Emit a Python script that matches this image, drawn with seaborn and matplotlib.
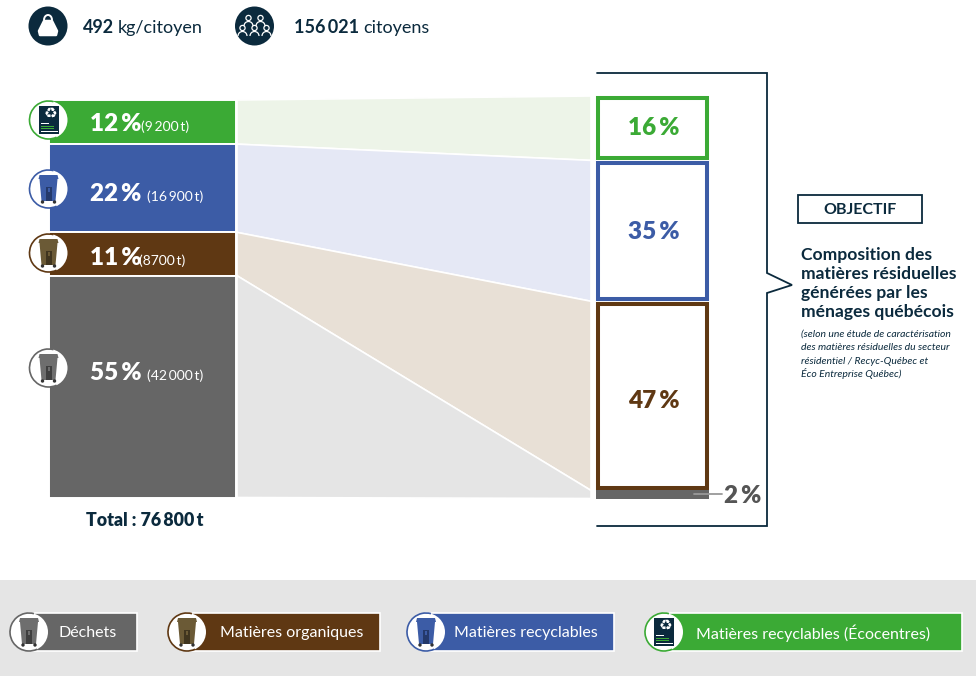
import matplotlib
matplotlib.use('Agg')
import numpy as np
import seaborn as sns
import matplotlib.pyplot as plt
from matplotlib.patches import Circle, Polygon, Rectangle, Arc

# data
categories = ['Matières recyclables (Écocentres)', 'Matières recyclables', 'Matières organiques', 'Déchets']
colors = ['#3BAA35', '#3C5CA6', '#5F3813', '#666666']
light_colors = ['#EDF4E8', '#E5E8F5', '#E8E0D6', '#E5E5E5']
left_labels = ['12\u2009%', '22\u2009%', '11\u2009%', '55\u2009%']
left_tonnes = ['(9\u2009200\u2009t)', '(16\u2009900\u2009t)', '(8700\u2009t)', '(42\u2009000\u2009t)']
# les hauteurs dessinées ne suivent pas tout à fait les étiquettes
left_shares = [11.1, 22.2, 10.9, 55.8]
right_values = [16, 35, 47, 2]
right_labels = ['16\u2009%', '35\u2009%', '47\u2009%', '2\u2009%']
total_label = 'Total : 76\u2009800\u2009t'
header_bold = ['492', '156\u2009021']
header_text = ['kg/citoyen', 'citoyens']
legend_order = ['Déchets', 'Matières organiques', 'Matières recyclables', 'Matières recyclables (Écocentres)']
objectif_title = ['Composition des', 'matières résiduelles', 'générées par les', 'ménages québécois']
objectif_note = ['(selon une étude de caractérisation', 'des matières résiduelles du secteur',
                 'résidentiel / Recyc-Québec et', 'Éco Entreprise Québec)']

NAVY = '#0B2A3D'
W, H = 976, 676

sns.set_theme(style='white')
plt.rcParams['font.family'] = ['Lato', 'DejaVu Sans']

fig = plt.figure(figsize=(W / 100, H / 100), dpi=100)
fig.patch.set_facecolor('white')


def px_axes(x0, y0, x1, y1, **kw):
    return fig.add_axes([x0 / W, 1 - y1 / H, (x1 - x0) / W, (y1 - y0) / H], **kw)


def stacked(ax, values, face, edge, lw):
    bottom = 0
    for v, f, e in zip(values, face, edge):
        sns.barplot(x=['a'], y=[v], bottom=bottom, color=f, width=1, ax=ax,
                    saturation=1, edgecolor=e, linewidth=lw, clip_on=False)
        bottom += v
    ax.set_xlim(-0.5, 0.5)
    ax.set_ylim(100, 0)
    ax.axis('off')


# barre de gauche
ax_left = px_axes(49.3, 100, 236, 497.5)
stacked(ax_left, left_shares, colors, ['white'] * 4, 1.4)

# barre de droite (objectif)
ax_right = px_axes(596, 96, 709, 498.5)
stacked(ax_right, right_values, ['white', 'white', 'white', colors[3]], colors, 2.9)
# les contours restent à l'intérieur de chaque case
for i, p in enumerate(ax_right.patches):
    if i < 3:
        p.set_x(p.get_x() + 0.018)
        p.set_width(p.get_width() - 0.036)
        p.set_y(p.get_y() + 0.6)
        p.set_height(p.get_height() - 1.2)
    else:
        p.set_linewidth(0)

# calque en pixels pour tout le reste
ov = fig.add_axes([0, 0, 1, 1], facecolor='none')
ov.set_xlim(0, W)
ov.set_ylim(H, 0)
ov.axis('off')


def to_px(ax, x, y):
    return ov.transData.inverted().transform(ax.transData.transform((x, y)))[1]


# bandes entre les deux barres
left_edges = np.concatenate([[0], np.cumsum(left_shares)])
right_edges = np.concatenate([[0], np.cumsum(right_values)])
for i in range(4):
    pts = [(237, to_px(ax_left, 0, left_edges[i])),
           (591, to_px(ax_right, 0, right_edges[i])),
           (591, to_px(ax_right, 0, right_edges[i + 1])),
           (237, to_px(ax_left, 0, left_edges[i + 1]))]
    ov.add_patch(Polygon(pts, closed=True, fc=light_colors[i], ec='white', lw=1.2))

# fond du bas
ov.add_patch(Rectangle((0, 580), W, 96, fc='#E5E5E5', ec='none'))


def runs(x, y, parts):
    # parts: (texte, taille, graisse, couleur)
    r = fig.canvas.get_renderer()
    for txt, size, weight, col in parts:
        t = ov.text(x, y, txt, fontsize=size, fontweight=weight, color=col, va='baseline', ha='left')
        x = t.get_window_extent(r).x1 + 4


def bin_icon(cx, cy, body, dark, s=1.0):
    ov.add_patch(Polygon([(cx - 9 * s, cy - 14 * s), (cx + 9 * s, cy - 14 * s), (cx + 10 * s, cy - 10 * s),
                          (cx - 10 * s, cy - 10 * s)], fc=body, ec='none', zorder=6))
    ov.add_patch(Polygon([(cx - 9 * s, cy - 10 * s), (cx + 9 * s, cy - 10 * s), (cx + 7 * s, cy + 12 * s),
                          (cx - 7 * s, cy + 12 * s)], fc=body, ec='none', zorder=6))
    ov.add_patch(Rectangle((cx - 3 * s, cy - 2 * s), 6 * s, 14 * s, fc=dark, ec='none', zorder=7))
    ov.add_patch(Rectangle((cx - 1 * s, cy - 1 * s), 2 * s, 4 * s, fc=body, ec='none', zorder=8))
    for dx in (-6, 6):
        ov.add_patch(Circle((cx + dx * s, cy + 13 * s), 1.7 * s, fc='#333333', ec='none', zorder=8))


def eco_icon(cx, cy, s=1.0):
    ov.add_patch(Rectangle((cx - 10 * s, cy - 14 * s), 20 * s, 28 * s, fc=NAVY, ec='none', zorder=6))
    ov.text(cx + 2 * s, cy - 6 * s, '\u267b', color='white', fontsize=11 * s, ha='center', va='center',
            family='DejaVu Sans', zorder=7)
    for k, (wd, c) in enumerate([(8, 'white'), (13, '#3BAA35'), (13, '#3BAA35'), (17, 'white')]):
        ov.add_patch(Rectangle((cx - 8 * s, cy + (3 + k * 2.5) * s), wd * s, 1.4 * s, fc=c, ec='none', zorder=7))


def badge(cx, cy, r, i):
    ov.add_patch(Circle((cx, cy), r, fc='white', ec='none', zorder=5))
    ov.add_patch(Arc((cx, cy), 2 * r, 2 * r, theta1=65, theta2=285, ec=colors[i], lw=1.2, zorder=5))
    if i == 0:
        eco_icon(cx, cy, r / 19)
    elif i == 1:
        bin_icon(cx, cy, '#3C5CA6', '#24396B', r / 19)
    elif i == 2:
        bin_icon(cx, cy, '#6B5A36', '#40351F', r / 19)
    else:
        bin_icon(cx, cy, '#6E6E6E', '#3F3F3F', r / 19)


# icônes et étiquettes de la barre de gauche
badge_y = [120, 189, 253, 368]
label_base = [131, 201, 265, 380]
tonnes_x = [141, 147, 139, 147]
for i in range(4):
    badge(48.5, badge_y[i], 19, i)
    ov.text(90, label_base[i], left_labels[i], fontsize=17.5, fontweight='heavy', color='white', va='baseline')
    ov.text(tonnes_x[i], label_base[i], left_tonnes[i], fontsize=10, color='white', va='baseline')

ov.text(145, 520, total_label, fontsize=12.8, fontweight='heavy', color=NAVY, ha='center', va='center')

# étiquettes de droite
right_y = [128, 232, 401]
for i in range(3):
    ov.text(654, right_y[i], right_labels[i], fontsize=17.5, fontweight='heavy', color=colors[i], ha='center', va='center')
ov.plot([694, 722], [494, 494], color='#999999', lw=1.3, zorder=4)
ov.text(724, 496, right_labels[3], fontsize=17.5, fontweight='heavy', color='#555555', ha='left', va='center')

# accolade de l'objectif
ov.plot([597, 767, 767, 792, 767, 767, 597], [73, 73, 273, 285, 293, 526, 526], color=NAVY, lw=1.3,
        solid_joinstyle='miter')
ov.add_patch(Rectangle((798, 195), 124, 28, fc='white', ec=NAVY, lw=1.3))
ov.text(860, 210, 'OBJECTIF', fontsize=11.5, fontweight='bold', color=NAVY, ha='center', va='center')
for k, line in enumerate(objectif_title):
    ov.text(801, 260 + k * 19, line, fontsize=12.6, fontweight='bold', color=NAVY, va='baseline')
for k, line in enumerate(objectif_note):
    ov.text(801, 337 + k * 13.3, line, fontsize=7.5, style='italic', color=NAVY, va='baseline')

# en-tête
ov.add_patch(Circle((48, 26), 19.5, fc=NAVY, ec='none'))
ov.add_patch(Polygon([(44, 21), (52, 21), (57, 31), (56, 35), (40, 35), (39, 31)], fc='white', ec='white', lw=1.8,
                     joinstyle='round', zorder=4))
ov.add_patch(Arc((48, 20), 8, 10, theta1=180, theta2=360, ec='white', lw=1.4, zorder=4))
ov.add_patch(Circle((254.5, 26), 19.5, fc=NAVY, ec='none'))
for dx, dy in [(-6, -8), (6, -8), (-12, 2), (0, 2), (12, 2)]:
    ov.add_patch(Circle((254.5 + dx, 26 + dy), 2.6, fc='none', ec='white', lw=0.9, zorder=4))
    ov.add_patch(Arc((254.5 + dx, 26 + dy + 8), 9, 9, theta1=180, theta2=360, ec='white', lw=0.9, zorder=4))
runs(83, 33, [(header_bold[0], 13, 'bold', NAVY), (header_text[0], 13, 'normal', NAVY)])
runs(294, 33, [(header_bold[1], 13, 'bold', NAVY), (header_text[1], 13, 'normal', NAVY)])

# légende du bas
leg_cx = [29, 187, 426, 664]
leg_right = [137, 380, 614, 962]
leg_text_x = [59, 220, 454, 696]
leg_idx = [3, 2, 1, 0]
for k, name in enumerate(legend_order):
    i = leg_idx[k]
    assert categories[i] == name
    ov.add_patch(Rectangle((leg_cx[k], 612.5), leg_right[k] - leg_cx[k], 38, fc=colors[i], ec='white', lw=1.2))
    badge(leg_cx[k], 632, 19, i)
    ov.text(leg_text_x[k], 633, name, fontsize=11.5, fontweight='normal', color='white', va='center', ha='left')

fig.savefig('out.png', dpi=100)
